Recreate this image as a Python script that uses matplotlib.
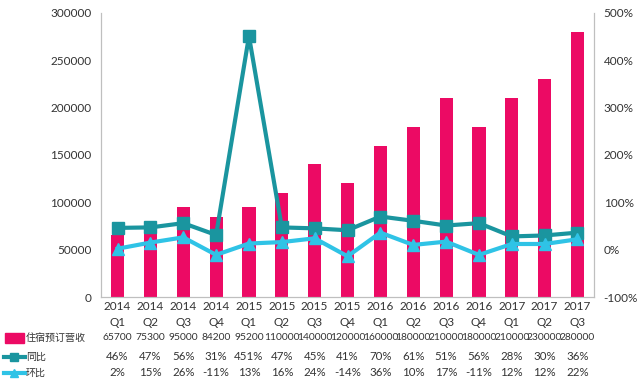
import matplotlib
matplotlib.use("Agg")
import matplotlib.pyplot as plt
from matplotlib.lines import Line2D
from matplotlib.patches import Rectangle
import numpy as np

plt.rcParams['font.family'] = ['Lato', 'Noto Sans CJK SC', 'DejaVu Sans']

years = ["2014", "2014", "2014", "2014", "2015", "2015", "2015", "2015",
         "2016", "2016", "2016", "2016", "2017", "2017", "2017"]
quarters = ["Q1", "Q2", "Q3", "Q4", "Q1", "Q2", "Q3", "Q4",
            "Q1", "Q2", "Q3", "Q4", "Q1", "Q2", "Q3"]
revenue = [65700, 75300, 95000, 84200, 95200, 110000, 140000, 120000,
           160000, 180000, 210000, 180000, 210000, 230000, 280000]
yoy = [46, 47, 56, 31, 451, 47, 45, 41, 70, 61, 51, 56, 28, 30, 36]
qoq = [2, 15, 26, -11, 13, 16, 24, -14, 36, 10, 17, -11, 12, 12, 22]
series_names = ["住宿预订营收", "同比", "环比"]

c_bar = "#EC0A64"
c_yoy = "#1A959F"
c_qoq = "#2FC3E6"
c_txt = "#333333"

fig = plt.figure(figsize=(6.4, 3.91), dpi=100)
AX_B, AX_H = 0.2404, 0.7264
ax = fig.add_axes([0.158, AX_B, 0.770, AX_H])
ax2 = ax.twinx()

x = np.arange(len(revenue))
ax.bar(x, revenue, width=0.4, color=c_bar, zorder=2)
ax.set_xlim(-0.5, len(revenue) - 0.5)
ax.set_ylim(0, 300000)
ax.set_yticks(np.arange(0, 300001, 50000))
ax.set_yticklabels([str(v) for v in range(0, 300001, 50000)])

ax2.plot(x, yoy, color=c_yoy, lw=3, marker="s", ms=9, zorder=3)
ax2.plot(x, qoq, color=c_qoq, lw=3, marker="^", ms=9, zorder=3)
ax2.set_ylim(-100, 500)
ax2.set_yticks(np.arange(-100, 501, 100))
ax2.set_yticklabels([f"{v}%" for v in range(-100, 501, 100)])

ax.set_xticks(x)
ax.set_xticklabels([])

for a in (ax, ax2):
    for s in a.spines.values():
        s.set_color("#BFBFBF")
    a.spines["top"].set_visible(False)
    a.tick_params(length=0, labelsize=8.5, colors=c_txt, pad=7)

trans = ax.get_xaxis_transform()
fig_h = 391
def fy(py):
    return 1 - py / fig_h
def ay(py):
    return (fy(py) - AX_B) / AX_H

# category labels (two lines)
for i in x:
    ax.text(i, ay(306), years[i], transform=trans, ha="center", va="center",
            fontsize=8.5, color=c_txt, clip_on=False)
    ax.text(i, ay(322), quarters[i], transform=trans, ha="center", va="center",
            fontsize=8.5, color=c_txt, clip_on=False)

# data table below
rows_y = [338, 357, 373]
row_sizes = [7.4, 8.3, 8.3]
row_vals = [[str(v) for v in revenue],
            [f"{v}%" for v in yoy],
            [f"{v}%" for v in qoq]]
for r, py in enumerate(rows_y):
    for i, s in enumerate(row_vals[r]):
        ax.text(i, ay(py), s, transform=trans, ha="center", va="center",
                fontsize=row_sizes[r], color=c_txt, clip_on=False)
    fig.text(26 / 640, fy(py), series_names[r], ha="left", va="center",
             fontsize=7.2, color=c_txt)

# legend keys
fig.add_artist(Rectangle((5 / 640, fy(343)), 19 / 640, 10 / 391,
                         transform=fig.transFigure, color=c_bar))
fig.add_artist(Line2D([4 / 640, 14 / 640, 25 / 640], [fy(357)] * 3,
                      transform=fig.transFigure, color=c_yoy, lw=3,
                      marker="s", ms=6, markevery=[1]))
fig.add_artist(Line2D([4 / 640, 14 / 640, 25 / 640], [fy(373)] * 3,
                      transform=fig.transFigure, color=c_qoq, lw=3,
                      marker="^", ms=6, markevery=[1]))

fig.savefig("out.png", dpi=100)
